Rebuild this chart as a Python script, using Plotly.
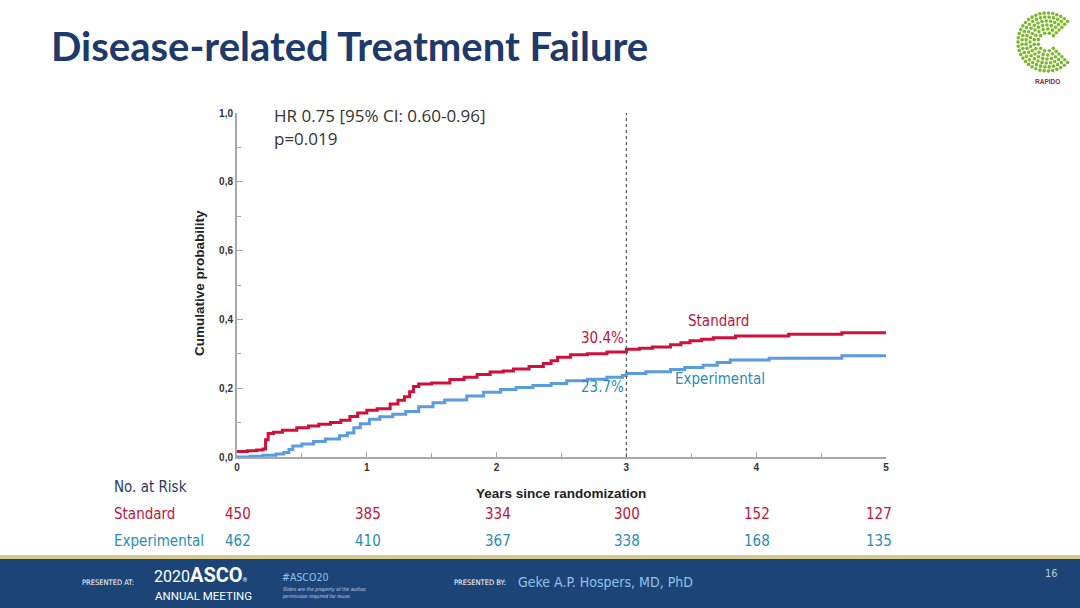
import plotly.graph_objects as go
import numpy as np

W, H = 1080, 608

# ---------------- data ----------------
std_t = [0, 0.08, 0.15, 0.2, 0.22, 0.24, 0.28, 0.35, 0.46, 0.55, 0.63, 0.72, 0.8, 0.87, 0.93, 1.0,
         1.08, 1.18, 1.24, 1.29, 1.33, 1.36, 1.4, 1.5, 1.64, 1.75, 1.85, 1.95, 2.05, 2.13, 2.25,
         2.36, 2.42, 2.47, 2.57, 2.7, 2.85, 3.0, 3.1, 3.2, 3.34, 3.42, 3.49, 3.58, 3.67, 3.84,
         4.25, 4.66, 5.0]
std_p = [0.016, 0.018, 0.02, 0.023, 0.05, 0.068, 0.072, 0.078, 0.085, 0.09, 0.095, 0.10, 0.107,
         0.118, 0.128, 0.136, 0.14, 0.154, 0.165, 0.175, 0.19, 0.205, 0.212, 0.215, 0.225, 0.232,
         0.24, 0.247, 0.25, 0.256, 0.263, 0.272, 0.28, 0.29, 0.297, 0.3, 0.305, 0.313, 0.316,
         0.32, 0.326, 0.332, 0.338, 0.342, 0.347, 0.352, 0.357, 0.361, 0.361]

exp_t = [0, 0.1, 0.2, 0.3, 0.36, 0.4, 0.43, 0.5, 0.59, 0.68, 0.79, 0.85, 0.9, 0.95, 1.02, 1.1,
         1.2, 1.3, 1.4, 1.51, 1.6, 1.77, 1.9, 2.03, 2.15, 2.28, 2.42, 2.54, 2.7, 2.85, 2.97, 3.0,
         3.15, 3.34, 3.45, 3.59, 3.7, 3.8, 4.1, 4.66, 5.0]
exp_p = [0.0, 0.002, 0.005, 0.009, 0.013, 0.022, 0.032, 0.038, 0.045, 0.052, 0.062, 0.07, 0.085,
         0.097, 0.11, 0.117, 0.124, 0.132, 0.146, 0.158, 0.166, 0.177, 0.188, 0.196, 0.202, 0.208,
         0.214, 0.222, 0.226, 0.232, 0.237, 0.243, 0.248, 0.254, 0.26, 0.267, 0.275, 0.282,
         0.287, 0.294, 0.294]

landmark_year = 3
std_landmark_label = "30.4%"
exp_landmark_label = "23.7%"

risk_years = [0, 1, 2, 3, 4, 5]
risk_std = [450, 385, 334, 300, 152, 127]
risk_exp = [462, 410, 367, 338, 168, 135]

y_ticks = [0, 0.2, 0.4, 0.6, 0.8, 1.0]
y_ticktext = ["0,0", "0,2", "0,4", "0,6", "0,8", "1,0"]
x_ticks = [0, 1, 2, 3, 4, 5]

# ---------------- style ----------------
RED = "#d0103a"
BLUE = "#5b9be0"
RED_TXT = "#c0143c"
TEAL_TXT = "#2a8cb0"
NAVY = "#1d3a6b"
AXIS = "#a8a8a8"
NARROW = "Liberation Sans Narrow, DejaVu Sans Condensed, DejaVu Sans, sans-serif"


def px(x):
    return x / W


def py(y):
    return 1 - y / H


x0, x1 = 237, 886
y0, y1 = 457, 113

fig = go.Figure()

fig.add_trace(go.Scatter(x=std_t, y=std_p, mode="lines", line=dict(color=RED, width=3, shape="hv"),
                         name="Standard", showlegend=False, hoverinfo="skip"))
fig.add_trace(go.Scatter(x=exp_t, y=exp_p, mode="lines", line=dict(color=BLUE, width=3, shape="hv"),
                         name="Experimental", showlegend=False, hoverinfo="skip"))

# landmark dotted line
fig.add_shape(type="line", xref="x", yref="y", x0=landmark_year, x1=landmark_year, y0=0, y1=1,
              line=dict(color="#555555", width=1.2, dash="dot"))

TICKFONT = dict(family="Liberation Sans", size=10, color="#333333", weight="bold")
fig.update_layout(
    width=W, height=H,
    margin=dict(l=0, r=0, t=0, b=0, autoexpand=False),
    paper_bgcolor="white", plot_bgcolor="rgba(0,0,0,0)",
    xaxis=dict(domain=[px(x0), px(x1)], range=[0, 5], tickvals=x_ticks,
               showgrid=False, zeroline=False, showline=True, linecolor=AXIS, linewidth=2,
               ticks="inside", ticklen=5, tickcolor=AXIS, tickwidth=1,
               minor=dict(dtick=0.5, ticks="inside", ticklen=4, tickcolor=AXIS, tickwidth=1),
               tickfont=TICKFONT),
    yaxis=dict(domain=[py(y0), py(y1)], range=[0, 1], tickvals=y_ticks, ticktext=y_ticktext,
               showgrid=False, zeroline=False, showline=True, linecolor=AXIS, linewidth=2,
               ticks="inside", ticklen=6, tickcolor=AXIS, tickwidth=1,
               minor=dict(dtick=0.1, ticks="inside", ticklen=4, tickcolor=AXIS, tickwidth=1),
               tickfont=TICKFONT),
)

ann = []
# title
ann.append(dict(text="<b>Disease-related Treatment Failure</b>", x=px(49), y=py(46), xref="paper", yref="paper",
                xanchor="left", yanchor="middle", showarrow=False,
                font=dict(family="Lato, Open Sans, sans-serif", size=40, color=NAVY)))
# axis titles
ann.append(dict(text="<b>Cumulative probability</b>", x=px(199), y=py(283), xref="paper", yref="paper",
                textangle=-90, showarrow=False, xanchor="center", yanchor="middle",
                font=dict(family="Liberation Sans", size=13.5, color="#222222")))
ann.append(dict(text="<b>Years since randomization</b>", x=px(561), y=py(493), xref="paper", yref="paper",
                showarrow=False, xanchor="center", yanchor="middle",
                font=dict(family="Liberation Sans", size=13.5, color="#222222")))
# HR text
HRFONT = dict(family="Open Sans, sans-serif", size=17, color="#333333")
ann.append(dict(text="HR 0.75 [95% CI: 0.60-0.96]", x=px(272), y=py(115), xref="paper", yref="paper",
                showarrow=False, xanchor="left", yanchor="middle", font=HRFONT))
ann.append(dict(text="p=0.019", x=px(272), y=py(138), xref="paper", yref="paper",
                showarrow=False, xanchor="left", yanchor="middle", font=HRFONT))
# curve labels
ann.append(dict(text=std_landmark_label, x=landmark_year, y=py(338), xref="x", yref="paper", xanchor="right",
                yanchor="middle", showarrow=False, font=dict(family=NARROW, size=15, color=RED_TXT)))
ann.append(dict(text=exp_landmark_label, x=landmark_year, y=py(387), xref="x", yref="paper", xanchor="right",
                yanchor="middle", showarrow=False, font=dict(family=NARROW, size=15, color=TEAL_TXT)))
ann.append(dict(text="Standard", x=px(718), y=py(321), xref="paper", yref="paper", xanchor="center",
                yanchor="middle", showarrow=False, font=dict(family=NARROW, size=15, color=RED_TXT)))
ann.append(dict(text="Experimental", x=px(720), y=py(379), xref="paper", yref="paper", xanchor="center",
                yanchor="middle", showarrow=False, font=dict(family=NARROW, size=15, color=TEAL_TXT)))

# risk table
ann.append(dict(text="No. at Risk", x=px(112), y=py(487), xref="paper", yref="paper", xanchor="left",
                yanchor="middle", showarrow=False, font=dict(family=NARROW, size=15, color="#2d3a5a")))
ann.append(dict(text="Standard", x=px(112), y=py(514), xref="paper", yref="paper", xanchor="left",
                yanchor="middle", showarrow=False, font=dict(family=NARROW, size=15, color=RED_TXT)))
ann.append(dict(text="Experimental", x=px(112), y=py(541), xref="paper", yref="paper", xanchor="left",
                yanchor="middle", showarrow=False, font=dict(family=NARROW, size=15, color=TEAL_TXT)))
for yr, a, b in zip(risk_years, risk_std, risk_exp):
    shift = -7 if yr == risk_years[-1] else 1
    ann.append(dict(text=str(a), x=yr, y=py(514), xref="x", yref="paper", xanchor="center", xshift=shift,
                    yanchor="middle", showarrow=False, font=dict(family=NARROW, size=15, color=RED_TXT)))
    ann.append(dict(text=str(b), x=yr, y=py(541), xref="x", yref="paper", xanchor="center", xshift=shift,
                    yanchor="middle", showarrow=False, font=dict(family=NARROW, size=15, color=TEAL_TXT)))

# footer
fig.add_shape(type="rect", xref="paper", yref="paper", x0=0, x1=1, y0=py(608), y1=py(559),
              fillcolor="#1d4477", line=dict(width=0), layer="below")
fig.add_shape(type="rect", xref="paper", yref="paper", x0=0, x1=1, y0=py(559), y1=py(555),
              fillcolor="#d8c98e", line=dict(width=0), layer="below")
FOOT = "Liberation Sans Narrow, DejaVu Sans Condensed, Roboto, sans-serif"
ann.append(dict(text="PRESENTED AT:", x=px(80), y=py(582), xref="paper", yref="paper", xanchor="left",
                yanchor="middle", showarrow=False, font=dict(family=FOOT, size=7.5, color="white")))
ann.append(dict(text="<span style='font-size:16px'>2020</span><b>ASCO</b><span style='font-size:6px'>®</span>",
                x=px(152), y=py(575), xref="paper", yref="paper", xanchor="left",
                yanchor="middle", showarrow=False, font=dict(family="Roboto, sans-serif", size=20, color="white")))
ann.append(dict(text="ANNUAL MEETING", x=px(153), y=py(596), xref="paper", yref="paper", xanchor="left",
                yanchor="middle", showarrow=False, font=dict(family="Roboto, sans-serif", size=11.5, color="white")))
ann.append(dict(text="#ASCO20", x=px(280), y=py(577), xref="paper", yref="paper", xanchor="left",
                yanchor="middle", showarrow=False, font=dict(family=FOOT, size=10.5, color="#8fc3ea")))
ann.append(dict(text="<i>Slides are the property of the author,<br>permission required for reuse.</i>",
                x=px(280), y=py(593), xref="paper", yref="paper", xanchor="left", align="left",
                yanchor="middle", showarrow=False, font=dict(family=FOOT, size=5, color="#c8d8ee")))
ann.append(dict(text="PRESENTED BY:", x=px(452), y=py(582), xref="paper", yref="paper", xanchor="left",
                yanchor="middle", showarrow=False, font=dict(family=FOOT, size=7.5, color="white")))
ann.append(dict(text="Geke A.P. Hospers, MD, PhD", x=px(516), y=py(582), xref="paper", yref="paper",
                xanchor="left", yanchor="middle", showarrow=False,
                font=dict(family=FOOT, size=14, color="#8fc3ea")))
ann.append(dict(text="16", x=px(1051), y=py(573), xref="paper", yref="paper", xanchor="center",
                yanchor="middle", showarrow=False, font=dict(family=FOOT, size=11, color="#c0c8d8")))

# RAPIDO logo (decorative)
lx, ly = [], []
cx, cy = 1047, 42
for r in [9, 13, 17, 21, 25, 29]:
    n = int(r * 1.15)
    for k in range(n):
        ang = np.deg2rad(45 + 270 * k / (n - 1))
        lx.append(px(cx + r * np.cos(ang)))
        ly.append(py(cy - r * np.sin(ang)))
fig.add_trace(go.Scatter(x=lx, y=ly, xaxis="x2", yaxis="y2", mode="markers",
                         marker=dict(color="#7ab929", size=3.6), showlegend=False, hoverinfo="skip"))
fig.update_layout(xaxis2=dict(domain=[0, 1], range=[0, 1], visible=False, anchor="y2"),
                  yaxis2=dict(domain=[0, 1], range=[0, 1], visible=False, anchor="x2"))
ann.append(dict(text="<b>RAPIDO</b>", x=px(1047), y=py(81), xref="paper", yref="paper", xanchor="center",
                yanchor="middle", showarrow=False, font=dict(family="Liberation Sans", size=6.5, color="#8a2a3a")))

fig.update_layout(annotations=ann)
fig.write_html("out.html", config={"displayModeBar": False},
               post_script="document.body.style.margin='0';document.body.style.overflow='hidden';")
